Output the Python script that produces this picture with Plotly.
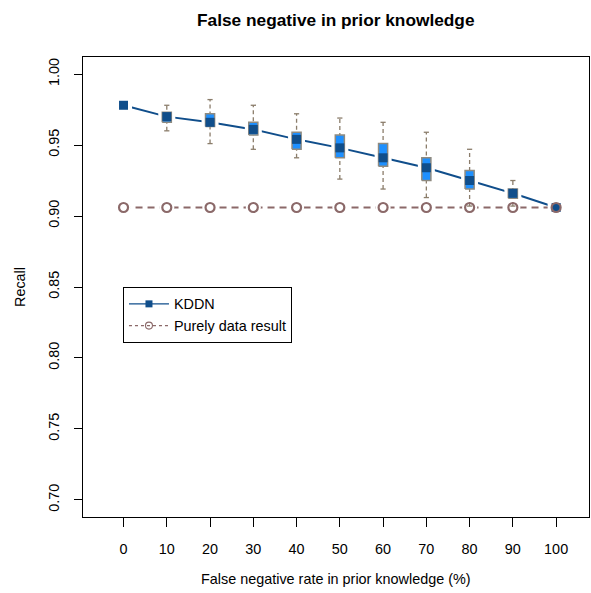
import plotly.graph_objects as go

# False negative rate in prior knowledge (%)
fn_rate = [0, 10, 20, 30, 40, 50, 60, 70, 80, 90, 100]

# KDDN recall over repeated runs: median, quartiles and whisker ends
kddn_median = [0.978, 0.970, 0.966, 0.961, 0.954, 0.948, 0.941, 0.934, 0.925, 0.916, 0.906]
kddn_q1 = [None, 0.966, 0.963, 0.957, 0.947, 0.941, 0.935, 0.925, 0.919, 0.9125, None]
kddn_q3 = [None, 0.973, 0.972, 0.966, 0.959, 0.957, 0.951, 0.941, 0.932, 0.919, None]
kddn_low = [None, 0.960, 0.951, 0.947, 0.941, 0.926, 0.919, 0.913, 0.907, 0.907, None]
kddn_high = [None, 0.978, 0.982, 0.978, 0.972, 0.969, 0.966, 0.959, 0.947, 0.925, None]

# Recall from data alone (no prior knowledge)
purely_data = [0.906, 0.906, 0.906, 0.906, 0.906, 0.906, 0.906, 0.906, 0.906, 0.906, 0.906]

y_ticks = [0.70, 0.75, 0.80, 0.85, 0.90, 0.95, 1.00]

DARK_BLUE = "#104E8B"
BOX_FILL = "#1E90FF"
BOX_EDGE = "#8E8A80"
WHISKER = "#8B7D6B"
ROSY = "#8B6969"
FONT = "Liberation Sans, Arial, sans-serif"
FS = 14.4

BOX_HALF = 1.05
CAP_HALF = 0.6

fig = go.Figure()

# Purely data result: dashed line with open circles
fig.add_trace(go.Scatter(
    x=fn_rate, y=purely_data, mode="lines", showlegend=False,
    line=dict(color=ROSY, width=2.2, dash="7px,5px"), hoverinfo="skip"))

# KDDN median line
fig.add_trace(go.Scatter(
    x=fn_rate, y=kddn_median, mode="lines", showlegend=False,
    line=dict(color=DARK_BLUE, width=2), hoverinfo="skip"))

# white halos so the lines break around the point symbols
fig.add_trace(go.Scatter(
    x=fn_rate, y=purely_data, mode="markers", showlegend=False,
    marker=dict(symbol="circle", size=15, color="white"), hoverinfo="skip"))
fig.add_trace(go.Scatter(
    x=fn_rate, y=kddn_median, mode="markers", showlegend=False,
    marker=dict(symbol="square", size=17, color="white"), hoverinfo="skip"))

# whiskers (dashed) and caps
wx, wy, cx, cy = [], [], [], []
for x, lo, hi in zip(fn_rate, kddn_low, kddn_high):
    if lo is None:
        continue
    wx += [x, x, None]
    wy += [lo, hi, None]
    for v in (lo, hi):
        cx += [x - CAP_HALF, x + CAP_HALF, None]
        cy += [v, v, None]
fig.add_trace(go.Scatter(
    x=wx, y=wy, mode="lines", showlegend=False,
    line=dict(color=WHISKER, width=1.3, dash="4px,3px"), hoverinfo="skip"))
fig.add_trace(go.Scatter(
    x=cx, y=cy, mode="lines", showlegend=False,
    line=dict(color=WHISKER, width=1.3), hoverinfo="skip"))

# boxes
for x, q1, q3 in zip(fn_rate, kddn_q1, kddn_q3):
    if q1 is None:
        continue
    fig.add_trace(go.Scatter(
        x=[x - BOX_HALF, x + BOX_HALF, x + BOX_HALF, x - BOX_HALF, x - BOX_HALF],
        y=[q1, q1, q3, q3, q1], mode="lines", fill="toself",
        fillcolor=BOX_FILL, line=dict(color=BOX_EDGE, width=1.5),
        showlegend=False, hoverinfo="skip"))

# point symbols
fig.add_trace(go.Scatter(
    x=fn_rate, y=kddn_median, mode="markers", name="KDDN",
    marker=dict(symbol="square", size=9, color=DARK_BLUE),
    showlegend=False))
fig.add_trace(go.Scatter(
    x=fn_rate, y=purely_data, mode="markers", name="Purely data result",
    marker=dict(symbol="circle-open", size=9, color=ROSY, line=dict(width=2.2)),
    showlegend=False))

# legend entries
fig.add_trace(go.Scatter(
    x=[None], y=[None], mode="lines+markers", name="KDDN",
    line=dict(color=DARK_BLUE, width=1.3),
    marker=dict(symbol="square", size=7, color=DARK_BLUE)))
fig.add_trace(go.Scatter(
    x=[None], y=[None], mode="lines+markers", name="Purely data result",
    line=dict(color=ROSY, width=1.1, dash="3px,3px"),
    marker=dict(symbol="circle-open", size=7, color=ROSY, line=dict(width=1.1))))

fig.update_layout(
    width=591, height=593,
    margin=dict(l=83, r=2, t=57, b=76),
    paper_bgcolor="white", plot_bgcolor="white",
    font=dict(family=FONT, size=FS, color="black"),
    showlegend=True,
    legend=dict(
        x=0.079, y=0.5, xanchor="left", yanchor="top",
        bordercolor="black", borderwidth=1, bgcolor="white",
        font=dict(family=FONT, size=FS, color="black"),
        itemwidth=40, tracegroupgap=0),
    xaxis=dict(
        range=[-9.37, 107.6], tickmode="array", tickvals=fn_rate,
        ticktext=[str(v) for v in fn_rate],
        showgrid=False, zeroline=False, showline=True, mirror=True,
        linecolor="black", linewidth=1,
        ticks="outside", ticklen=9, tickcolor="black", tickwidth=1,
        ticklabelstandoff=10, tickfont=dict(size=FS)),
    yaxis=dict(
        range=[0.688, 1.012], tickmode="array", tickvals=y_ticks,
        ticktext=[f"{v:.2f}" for v in y_ticks],
        showgrid=False, zeroline=False, showline=True, mirror=True,
        linecolor="black", linewidth=1,
        ticks="outside", ticklen=8, tickcolor="black", tickwidth=1,
        tickangle=-90, ticklabelstandoff=9, tickfont=dict(size=FS)),
    annotations=[
        dict(text="<b>False negative in prior knowledge</b>", xref="paper", yref="paper",
             x=0.5, y=1, yshift=37, xanchor="center", yanchor="middle",
             showarrow=False, font=dict(family=FONT, size=17.3, color="black")),
        dict(text="False negative rate in prior knowledge (%)", xref="paper", yref="paper",
             x=0.5, y=0, yshift=-62, xanchor="center", yanchor="middle",
             showarrow=False, font=dict(family=FONT, size=FS, color="black")),
        dict(text="Recall", xref="paper", yref="paper", textangle=-90,
             x=0, xshift=-63, y=0.5, xanchor="center", yanchor="middle",
             showarrow=False, font=dict(family=FONT, size=FS, color="black")),
    ],
)

fig.write_html("out.html")
